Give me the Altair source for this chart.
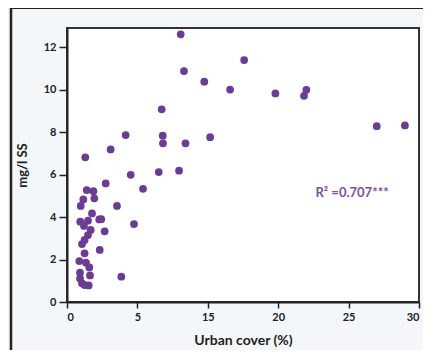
import altair as alt
import pandas as pd

# Urban cover (%) in axis units (ticks evenly spaced, labelled 0,5,15,20,25,30)
urban = [9.69, 15.1, 9.97, 11.7, 13.9, 8.07, 5.0, 8.16, 8.18, 10.1, 12.2, 3.72, 1.56,
         17.76, 20.4, 20.2, 26.4, 28.8,
         5.43, 7.82, 9.55, 3.3, 6.48, 1.68, 2.25, 2.33, 1.39, 1.17, 4.26, 2.13,
         1.13, 1.79, 2.75, 2.92, 5.71, 1.45, 2.02, 3.21, 1.79, 1.5, 1.28, 2.79,
         1.5, 1.05, 1.62, 1.9, 1.11, 1.96, 4.63, 1.11, 1.28, 1.85, 1.5]
ss = [12.6, 11.39, 10.87, 10.37, 10.0, 9.07, 7.86, 7.83, 7.47, 7.47, 7.76, 7.18, 6.81,
      9.82, 9.99, 9.71, 8.28, 8.31,
      5.99, 6.12, 6.18, 5.58, 5.33, 5.27, 5.22, 4.88, 4.83, 4.52, 4.52, 4.17,
      3.78, 3.83, 3.89, 3.9, 3.67, 3.58, 3.39, 3.33, 3.15, 2.92, 2.73, 2.45,
      2.29, 1.93, 1.85, 1.63, 1.38, 1.25, 1.19, 1.11, 0.88, 0.78, 0.8]

x_tick_values = [0, 6, 12, 18, 24, 30]
x_tick_labels = ["0", "5", "15", "20", "25", "30"]
y_tick_values = [0, 2, 4, 6, 8, 10, 12]

annotation = "R\u00b2 =0.707***"

df = pd.DataFrame({"urban": urban, "ss": ss})
ann = pd.DataFrame({"urban": [24.3], "ss": [5.13], "t": [annotation]})

label_expr = " : ".join(
    [f"datum.value == {v} ? '{l}'" for v, l in zip(x_tick_values, x_tick_labels)]
) + " : ''"

W, H = 352, 274
FONT = "Lato"

xscale = alt.Scale(domain=[0, 30], nice=False, zero=False)
yscale = alt.Scale(domain=[0, 12.9], nice=False, zero=False)

points = alt.Chart(df).mark_circle(size=60, opacity=1, color="#6c3b94").encode(
    x=alt.X("urban:Q", scale=xscale,
            axis=alt.Axis(values=x_tick_values, labelExpr=label_expr, title="Urban cover (%)",
                          grid=False, tickSize=6, labelPadding=3, titleY=38,
                          titleBaseline="middle")),
    y=alt.Y("ss:Q", scale=yscale,
            axis=alt.Axis(values=y_tick_values, title="mg/l SS", grid=False, tickSize=8,
                          labelPadding=3, titleX=-45, titleY=H / 2, titleAngle=270,
                          titleAlign="center", titleBaseline="middle")),
)

text = alt.Chart(ann).mark_text(font=FONT, fontSize=13, fontWeight="bold",
                                color="#7e4f9e").encode(
    x=alt.X("urban:Q", scale=xscale, axis=None),
    y=alt.Y("ss:Q", scale=yscale, axis=None),
    text="t:N")

frame_top = alt.Chart(ann).mark_rule(color="#222222", strokeWidth=2).encode(
    x=alt.value(-57), x2=alt.value(W + 10), y=alt.value(-20))
frame_left = alt.Chart(ann).mark_rule(color="#222222", strokeWidth=2.5).encode(
    x=alt.value(-56), y=alt.value(-21), y2=alt.value(H + 48))

chart = alt.layer(frame_top, frame_left, points, text).resolve_axis(
    x="independent", y="independent"
).properties(
    width=W, height=H,
    autosize=alt.AutoSizeParams(type="none"),
    padding={"left": 59, "top": 20, "right": 4, "bottom": 48},
    background="#f4f7fa",
).configure_view(
    stroke="#333333", strokeWidth=2, fill="white"
).configure_axis(
    domainColor="#222222", domainWidth=2, tickColor="#222222", tickWidth=1.5,
    labelFont=FONT, labelFontSize=11, labelFontWeight="bold", labelColor="#222222",
    titleFont=FONT, titleFontSize=14, titleFontWeight="bold", titleColor="#222222",
).configure_axisY(titleFontSize=13)

chart.save("out.html", embed_options={"renderer": "svg", "actions": False})
